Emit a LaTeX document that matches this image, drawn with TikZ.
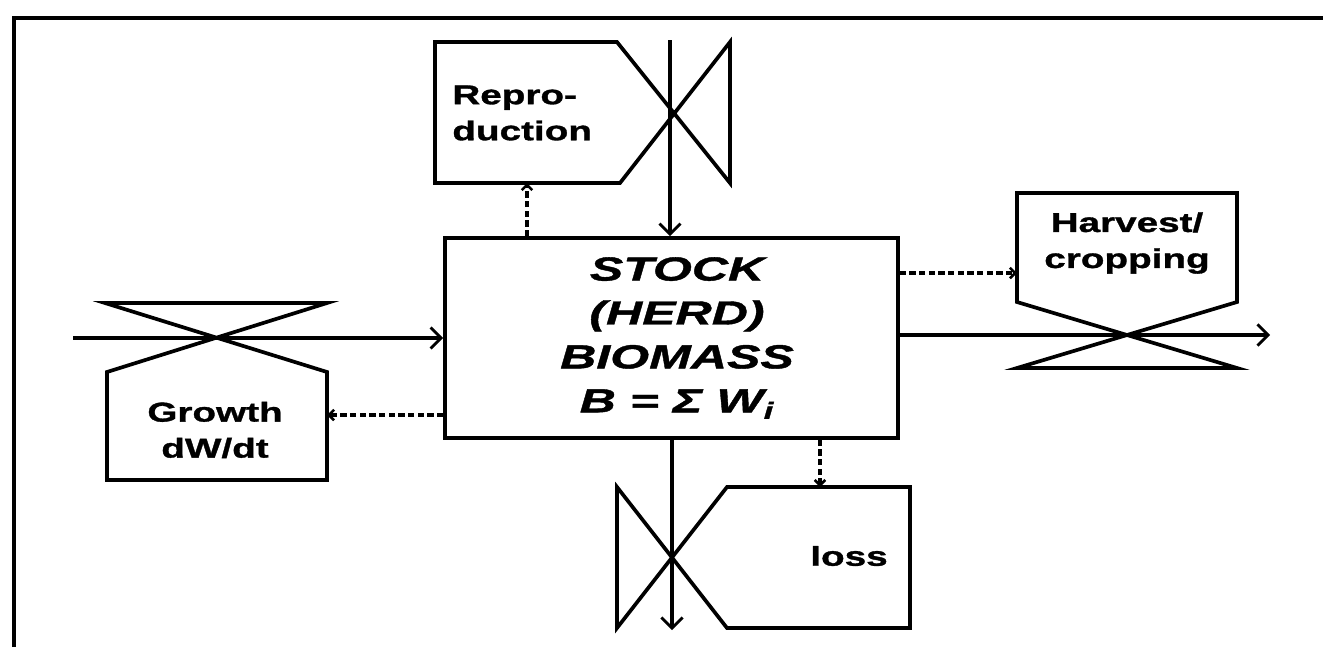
\documentclass[tikz,border=0pt]{standalone}
\usepackage{fontspec}
\usetikzlibrary{arrows.meta}
\newfontfamily\labfont[FakeStretch=1.42,FakeBold=1.2]{Liberation Sans}
\newfontfamily\stkfont[FakeStretch=1.5,FakeBold=1.2]{Liberation Sans}
\tikzset{
  shp/.style={line width=2.1pt, line join=miter},
  flow/.style={line width=1.9pt, -{Straight Barb[length=6pt,width=12pt,line width=1.6pt]}},
  ctrl/.style={line width=2pt, dash pattern=on 3.5pt off 2pt, -{Straight Barb[length=3pt,width=6pt,line width=1.5pt]}},
  lab/.style={font=\labfont\bfseries\fontsize{15.5}{20.5}\selectfont, inner sep=0pt},
  stklab/.style={font=\stkfont\bfseries\itshape\fontsize{19}{25}\selectfont, align=center}
}
\begin{document}
\begin{tikzpicture}[x=0.02cm,y=-0.02cm]
\useasboundingbox (0,0) rectangle (1323,647);
\fill[white] (0,0) rectangle (1323,647);
% frame
\draw[line width=2.8pt] (14,647) -- (14,18) -- (1323,18);

% central stock
\node[draw, shp, minimum width=9.06cm, minimum height=4.0cm, inner sep=0pt] (stock) at (671.5,338) {};
\node[stklab] (stocktxt) at (677,338) {STOCK\\(HERD)\\BIOMASS\\B = Σ W\textsubscript{i}};

% reproduction
\draw[shp] (617,42) -- (435,42) -- (435,183) -- (620,183) -- (730,42) -- (730,183) -- cycle;
\node[lab, anchor=west, align=left] (repro) at (452,113) {Repro-\\duction};
\coordinate (rvtop) at (670,40);
\coordinate (rbot) at (527,183);
\draw[flow] (rvtop) -- (stock.north -| rvtop);
\draw[ctrl] (stock.north -| rbot) -- (rbot);

% harvest
\draw[shp] (1017,302) -- (1017,193) -- (1237,193) -- (1237,302) -- (1017,368) -- (1237,368) -- cycle;
\node[lab, align=center] (harv) at (1127,243) {Harvest/\\cropping};
\coordinate (hout) at (1270,335);
\coordinate (hin) at (1017,273);
\draw[flow] (stock.east |- hout) -- (hout);
\draw[ctrl] (stock.east |- hin) -- (hin);

% growth
\draw[shp] (107,372) -- (107,480) -- (327,480) -- (327,372) -- (105,303) -- (327,303) -- cycle;
\node[lab, align=center] (growth) at (215,430) {Growth\\dW/dt};
\coordinate (gin) at (73,338);
\coordinate (gout) at (327,415);
\draw[flow] (gin) -- (stock.west |- gin);
\draw[ctrl] (stock.west |- gout) -- (gout);

% loss
\draw[shp] (727,487) -- (910,487) -- (910,628) -- (727,628) -- (617,487) -- (617,628) -- cycle;
\node[lab] (loss) at (849,556) {loss};
\coordinate (lout) at (672,630);
\coordinate (lin) at (820,487);
\draw[flow] (stock.south -| lout) -- (lout);
\draw[ctrl] (stock.south -| lin) -- (lin);
\end{tikzpicture}
\end{document}
